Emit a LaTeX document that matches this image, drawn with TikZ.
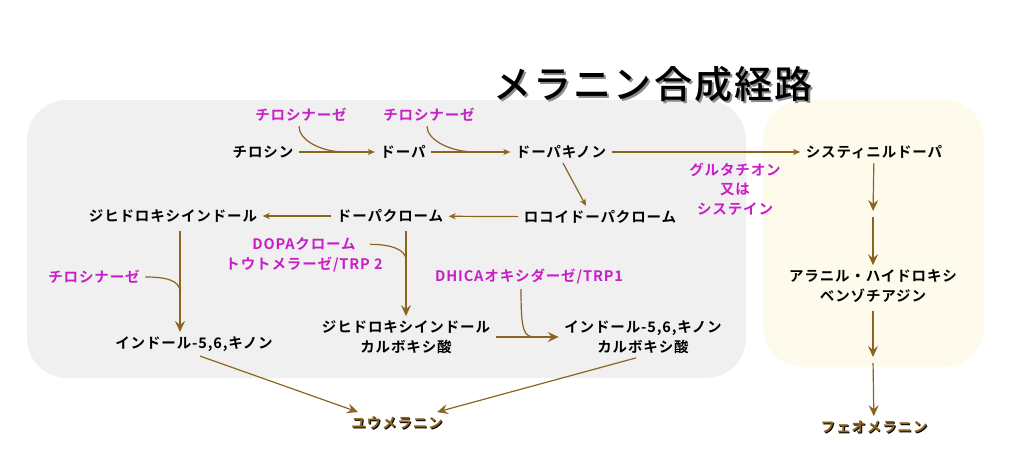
\documentclass[tikz,border=0pt]{standalone}
\usepackage{fontspec}
\usepackage{tikz}
\usetikzlibrary{arrows.meta,calc}
\newfontfamily\jp{Noto Sans CJK JP}[BoldFont={Noto Sans CJK JP Bold},LetterSpace=6]
\newfontfamily\jptitle{Noto Sans CJK JP}[BoldFont={Noto Sans CJK JP Medium},LetterSpace=6]
\definecolor{arrbrown}{HTML}{8B6420}
\definecolor{enzpink}{HTML}{C81EC8}
\definecolor{boxgray}{HTML}{F0F0F0}
\definecolor{boxcream}{HTML}{FEFAEC}

\begin{document}
\begin{tikzpicture}[x=1pt, y=-1pt, line width=1.2pt,
    main/.style = {font=\jp\bfseries\fontsize{14.5}{19.5}\selectfont, align=center, inner xsep=5pt, inner ysep=4pt},
    enz/.style = {main, text=enzpink},
    goal/.style = {main, text=arrbrown},
    link/.style = {arrbrown, -{Stealth[length=7pt,width=6pt,inset=2pt]}},
    biglink/.style = {arrbrown, -{Stealth[length=11pt,width=10pt,inset=4pt]}},
    enzline/.style = {arrbrown}]

    \useasboundingbox (0,0) rectangle (1024,471);
    \fill[boxgray, rounded corners=40pt] (27,100) rectangle (746,378);
    \fill[boxcream, rounded corners=40pt] (763,100) rectangle (984,367);

    % title
    \node[font=\jptitle\bfseries\fontsize{38}{42}\selectfont, text=black!45] (ts) at (655,86) {メラニン合成経路};
    \node[font=\jptitle\bfseries\fontsize{38}{42}\selectfont] (t) at (653,84) {メラニン合成経路};

    \node[main] (1) at (263,152) {チロシン};
    \node[main] (2) at (403,152) {ドーパ};
    \node[main] (3) at (561,152) {ドーパキノン};
    \node[main] (4) at (874,152) {システィニルドーパ};
    \node[main] (5) at (600,217) {ロコイドーパクローム};
    \node[main] (6) at (390,216) {ドーパクローム};
    \node[main] (7) at (173,216) {ジヒドロキシインドール};
    \node[main] (8) at (194,344) {インドール-5,6,キノン};
    \node[main] (9) at (406,337) {ジヒドロキシインドール\\カルボキシ酸};
    \node[main] (10) at (643,337) {インドール-5,6,キノン\\カルボキシ酸};
    \node[main] (12) at (873,286) {アラニル・ハイドロキシ\\ベンゾチアジン};

    \node[goal, text=black] (11s) at (398,424) {ユウメラニン};
    \node[goal] (11) at (397,423) {ユウメラニン};
    \node[goal, text=black] (13s) at (875,428) {フェオメラニン};
    \node[goal] (13) at (874,427) {フェオメラニン};

    % enzymes
    \node[enz] (e1) at (301,115) {チロシナーゼ};
    \node[enz] (e2) at (429,115) {チロシナーゼ};
    \node[enz] (e3) at (735,189) {グルタチオン\\又は\\システイン};
    \node[enz] (e4) at (304,255) {DOPAクローム\\トウトメラーゼ/TRP 2};
    \node[enz] (e5) at (94,277) {チロシナーゼ};
    \node[enz] (e6) at (529,277) {DHICAオキシダーゼ/TRP1};

    \coordinate (j1) at (345,152);
    \coordinate (j2) at (475,152);
    \coordinate (j4) at (406,260);
    \coordinate (j5) at (180,292);
    \coordinate (j6) at (536,337);
    \coordinate (c1) at (873,214);
    \coordinate (c2) at (873,360);

    \draw[link] (1) -- (2);
    \draw[link] (2) -- (3);
    \draw[link] (3) -- (4);
    \draw[link] ([xshift=2pt]3.south) -- ([xshift=-14pt]5.north);
    \draw[link] (5) -- (6);
    \draw[link] (6) -- (7);
    \draw[biglink, shorten <=4pt] ([xshift=7pt]7.south) -- ([xshift=7pt]7.south |- 8.north);
    \draw[biglink, shorten <=4pt] ([xshift=16pt]6.south) -- ([xshift=16pt]6.south |- 9.north);
    \draw[biglink] (9) -- (10);
    \draw[biglink] ([xshift=6pt]8.south) -- ([xshift=-39pt]11.north);
    \draw[biglink] ([xshift=-7pt]10.south) -- ([xshift=40pt]11.north);
    \draw[biglink, shorten >=3pt] (4) -- (c1);
    \draw[biglink, shorten <=3pt] (c1) -- (12);
    \draw[biglink, shorten <=4pt, shorten >=3pt] (12) -- (c2);
    \draw[biglink, shorten <=3pt] (c2) -- (13);

    \draw[enzline] ([xshift=-2pt]e1.south) .. controls +(0,14) and +(-24,0) .. (j1);
    \draw[enzline] ([xshift=-2pt]e2.south) .. controls +(0,14) and +(-24,0) .. (j2);
    \draw[enzline] ($(e4.north east)+(-18,11)$) .. controls +(22,0) and +(0,-10) .. (j4);
    \draw[enzline] (e5.east) .. controls +(20,0) and +(0,-12) .. (j5);
    \draw[enzline] ([xshift=-8pt]e6.south) .. controls +(0,44) and +(-12,0) .. (j6);
\end{tikzpicture}
\end{document}
